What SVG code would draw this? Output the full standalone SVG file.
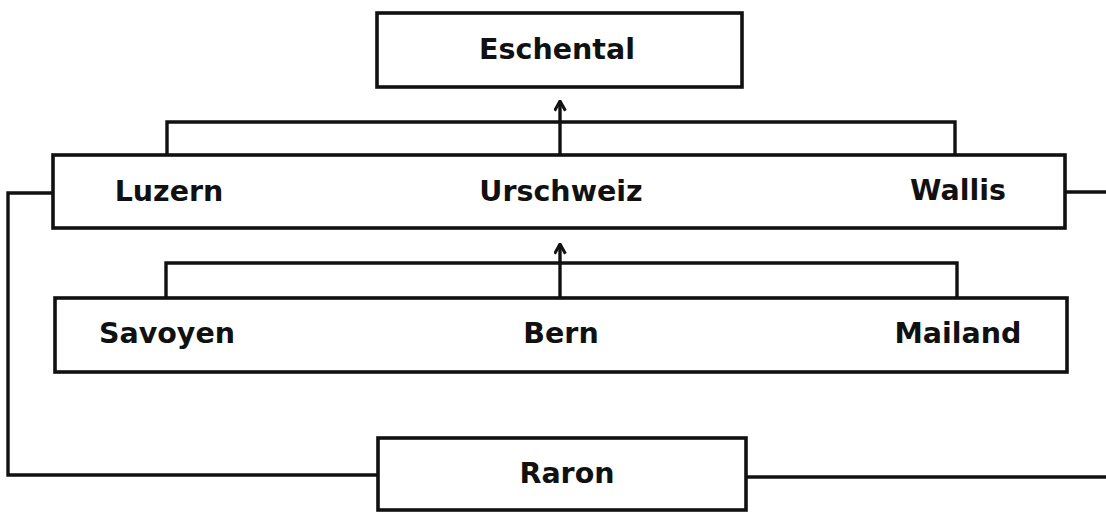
<svg xmlns="http://www.w3.org/2000/svg" width="1106" height="512" viewBox="0 0 1106 512">
<style>
.box{fill:#fff;stroke:#111;stroke-width:3.6}
.ln{fill:none;stroke:#111;stroke-width:3.4;stroke-linejoin:miter}
.lbl{font-family:"DejaVu Sans",sans-serif;font-weight:bold;font-size:28.5px;fill:#111;text-anchor:middle}
</style>
<defs>
<marker id="chev" viewBox="0 0 12 12" refX="11" refY="6" markerWidth="13" markerHeight="13" markerUnits="userSpaceOnUse" orient="auto">
<path d="M2,1 L11,6 L2,11" fill="none" stroke="#111" stroke-width="2.8"/>
</marker>
</defs>
<rect width="1106" height="512" fill="#fff"/>
<g id="connectors">
<path class="ln" d="M167,155 V122 H955 V155"/>
<path class="ln" d="M560,155 V101" marker-end="url(#chev)"/>
<path class="ln" d="M166,298 V263 H957 V298"/>
<path class="ln" d="M560,298 V244" marker-end="url(#chev)"/>
<path class="ln" d="M53,193 H8 V475 H378"/>
<path class="ln" d="M1065,192 H1106"/>
<path class="ln" d="M746,477 H1106"/>
</g>
<g id="eschental">
<rect class="box" x="377" y="13" width="365" height="74"/>
<text class="lbl" x="557" y="59">Eschental</text>
</g>
<g id="row-urschweiz">
<rect class="box" x="53" y="155" width="1012" height="73"/>
<text class="lbl" x="169" y="201">Luzern</text>
<text class="lbl" x="561" y="201">Urschweiz</text>
<text class="lbl" x="958" y="200">Wallis</text>
</g>
<g id="row-bern">
<rect class="box" x="55" y="298" width="1012" height="74"/>
<text class="lbl" x="167" y="343">Savoyen</text>
<text class="lbl" x="561" y="343">Bern</text>
<text class="lbl" x="958" y="343">Mailand</text>
</g>
<g id="raron">
<rect class="box" x="378" y="438" width="368" height="72"/>
<text class="lbl" x="567" y="483">Raron</text>
</g>
</svg>
